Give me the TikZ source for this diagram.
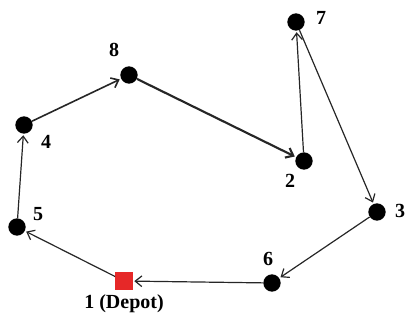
\documentclass[tikz,border=0pt]{standalone}
\usepackage{fontspec}
\setmainfont{Liberation Serif}
\usetikzlibrary{arrows.meta}
\definecolor{depotred}{RGB}{230,40,40}
\tikzset{
  x=0.75pt, y=-0.75pt,
  cust/.style={circle, fill=black, inner sep=0pt, minimum size=13pt},
  depot/.style={rectangle, fill=depotred, inner sep=0pt, minimum size=13pt},
  lbl/.style={font=\fontsize{15}{17}\selectfont\bfseries, inner sep=0pt},
  route/.style={draw=black!85, line width=0.9pt, -{Straight Barb[length=5pt,width=8pt]}, shorten >=1pt},
  medium/.style={route, line width=1.2pt},
  heavy/.style={route, line width=1.6pt}
}
\begin{document}
\begin{tikzpicture}
\useasboundingbox (0,0) rectangle (407,320);
\node[depot] (n1) at (124,281) {};
\node[cust] (n2) at (304,161) {};
\node[cust] (n3) at (377,212) {};
\node[cust] (n4) at (24,125) {};
\node[cust] (n5) at (17,227) {};
\node[cust] (n6) at (272,283) {};
\node[cust] (n7) at (296,22) {};
\node[cust] (n8) at (129,75) {};
\node[lbl] (l1) at (124,304) {1 (Depot)};
\node[lbl] (l2) at (290,181) {2};
\node[lbl] (l3) at (400,211) {3};
\node[lbl] (l4) at (46,142) {4};
\node[lbl] (l5) at (38,214) {5};
\node[lbl] (l6) at (268,259) {6};
\node[lbl] (l7) at (321,18) {7};
\node[lbl] (l8) at (114,50) {8};
\draw[route] (n1) -- (n5);
\draw[route] (n5) -- (n4);
\draw[medium] (n4) -- (n8);
\draw[heavy] (n8) -- (n2);
\draw[route] (n2) -- (n7);
\draw[route] (n7) -- (n3);
\draw[route] (n3) -- (n6);
\draw[route] (n6) -- (n1);
\end{tikzpicture}
\end{document}
